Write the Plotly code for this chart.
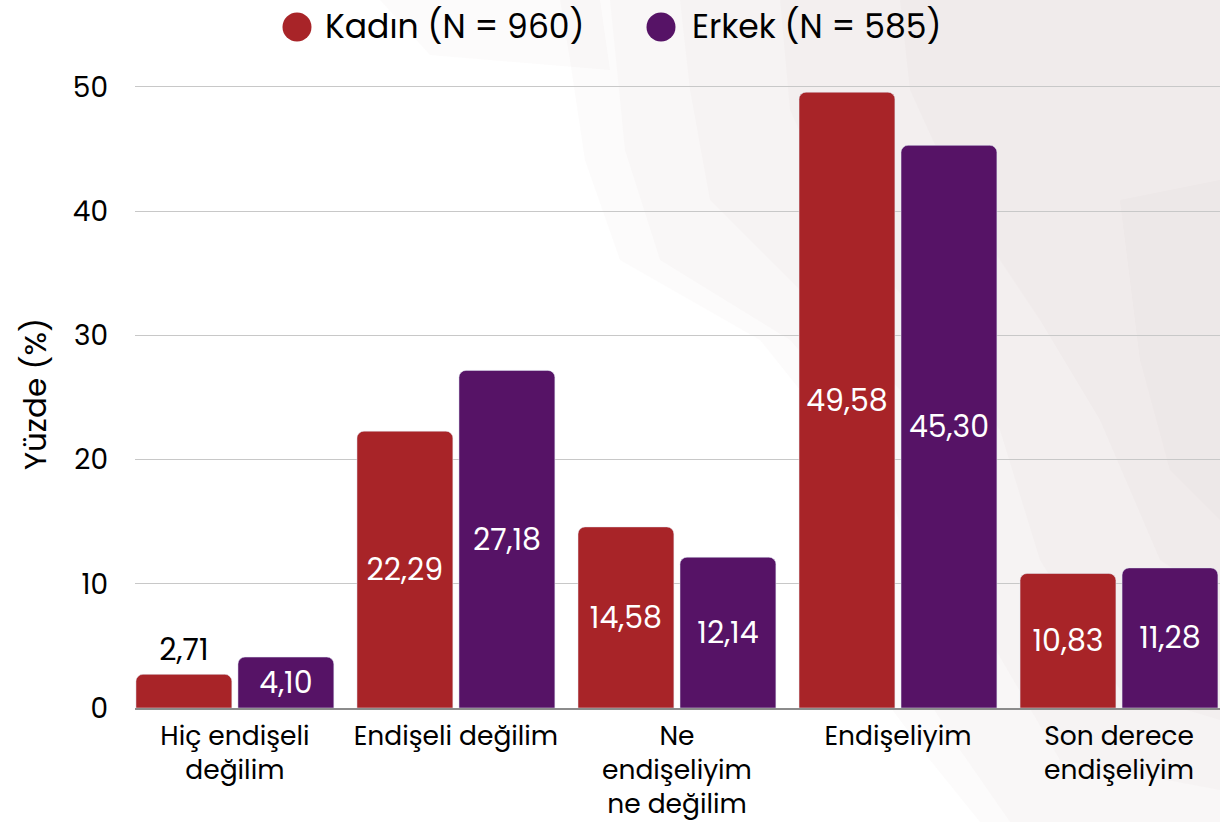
import plotly.graph_objects as go

# Endişe düzeyi, cinsiyete göre (%)
categories = ["Hiç endişeli<br>değilim", "Endişeli değilim", "Ne<br>endişeliyim<br>ne değilim",
              "Endişeliyim", "Son derece<br>endişeliyim"]
kadin = [2.71, 22.29, 14.58, 49.58, 10.83]
erkek = [4.10, 27.18, 12.14, 45.30, 11.28]
series_names = ["Kadın (N = 960)", "Erkek (N = 585)"]
y_ticks = [0, 10, 20, 30, 40, 50]

colors = ["#A82428", "#561366"]
font_family = "Poppins, Open Sans, sans-serif"

W, H = 1220, 822
L, R, T, B = 135, 0, 80, 114


def fmt(v):
    return f"{v:.2f}".replace(".", ",")


def px_to_paper(x, y):
    return (x - L) / (W - L - R), (H - B - y) / (H - T - B)


fig = go.Figure()
for name, values, color in zip(series_names, [kadin, erkek], colors):
    fig.add_trace(go.Bar(
        x=categories, y=values, name=name,
        marker=dict(color=color),
        text=[fmt(v) for v in values],
        textposition="auto",
        insidetextanchor="middle",
        insidetextfont=dict(color="white", size=30),
        outsidetextfont=dict(color="black", size=30),
        cliponaxis=False,
        showlegend=False,
    ))


# soft grey wash in the background (decoration), stacked thin layers
def blob(points, color):
    pts = [px_to_paper(x, y) for x, y in points]
    path = "M " + " L ".join(f"{x:.4f},{y:.4f}" for x, y in pts) + " Z"
    fig.add_shape(type="path", path=path, xref="paper", yref="paper",
                  fillcolor=color, line=dict(width=0), layer="below")


wash = "rgba(200,188,195,0.06)"
blob([(560, 0), (1220, 0), (1220, 822), (980, 822), (930, 760), (885, 700), (880, 560),
      (840, 440), (760, 340), (620, 260), (585, 160), (570, 60)], wash)
blob([(380, 0), (600, 0), (610, 70), (430, 55)], wash)
blob([(610, 0), (1220, 0), (1220, 822), (1010, 822), (960, 750), (915, 680), (905, 540),
      (870, 430), (790, 340), (660, 260), (625, 150)], wash)
blob([(680, 0), (1220, 0), (1220, 790), (1060, 760), (990, 640), (950, 500),
      (900, 390), (810, 300), (710, 200), (690, 90)], wash)
blob([(780, 0), (1220, 0), (1220, 720), (1120, 690), (1040, 560), (1000, 430),
      (930, 330), (840, 220), (790, 110)], wash)
blob([(900, 0), (1220, 0), (1220, 600), (1160, 560), (1100, 420), (1040, 320),
      (960, 200), (910, 90)], wash)
blob([(1120, 200), (1220, 180), (1220, 520), (1170, 470), (1140, 360)], wash)

# legend drawn as round markers + text
legend_items = [(297, 323), (661, 690)]
for (cx, tx), name, color in zip(legend_items, series_names, colors):
    px, py = px_to_paper(cx, 27)
    fig.add_shape(type="circle", xref="paper", yref="paper", xsizemode="pixel", ysizemode="pixel",
                  xanchor=px, yanchor=py, x0=-14.5, x1=14.5, y0=-14.5, y1=14.5,
                  fillcolor=color, line=dict(width=0))
    ax, ay = px_to_paper(tx, 27)
    fig.add_annotation(x=ax, y=ay, xref="paper", yref="paper", text=name, showarrow=False,
                       xanchor="left", yanchor="middle", font=dict(size=33, color="black"))

fig.update_layout(
    width=W, height=H,
    margin=dict(l=L, r=R, t=T, b=B),
    paper_bgcolor="white", plot_bgcolor="rgba(0,0,0,0)",
    font=dict(family=font_family, color="black", size=27),
    barmode="group", bargap=0.077, bargroupgap=0.06,
    barcornerradius=7,
    uniformtext=dict(minsize=20, mode="show"),
    showlegend=False,
)
fig.update_xaxes(range=[-0.452, 4.457], showline=True, linecolor="#8c8c8c", linewidth=1.5,
                 ticks="", tickfont=dict(size=26.5), ticklabelstandoff=3, automargin=False)
fig.update_yaxes(range=[0, 50.56], tickvals=y_ticks, showgrid=True, gridcolor="#c8c8c8",
                 gridwidth=1, zeroline=False, tickfont=dict(size=28), ticklabelstandoff=26,
                 automargin=False,
                 title=dict(text="Yüzde (%)", font=dict(size=31), standoff=16))

# page body margin would shift the figure by 8px
fig.write_html("out.html", config={"displayModeBar": False},
               post_script="document.body.style.margin='0';")
